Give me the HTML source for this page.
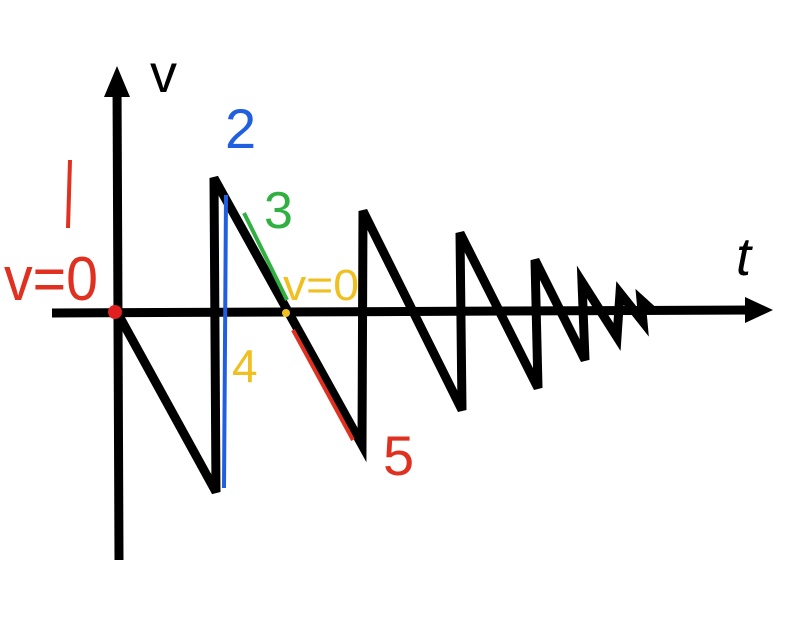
<!DOCTYPE html>
<html><head><style>body{margin:0;background:#fff}svg{display:block}</style></head>
<body>
<svg width="800" height="623" viewBox="0 0 800 623" xmlns="http://www.w3.org/2000/svg" font-family="Liberation Sans, sans-serif">
<g stroke="#000" stroke-width="9" fill="none" stroke-linejoin="miter" stroke-linecap="butt">
<line x1="117" y1="80" x2="119" y2="560"/>
<line x1="52" y1="313" x2="755" y2="310"/>
<polyline points="117,312 216,492 214,178 362,445 363,211 462,410 460,233 538,388 535,260 585,360 582,282 617,337 620,293 643,322 641,300 652,310"/>
</g>
<polygon points="104,97 117,66 130,97" fill="#000"/>
<polygon points="745,297 773,310 745,323" fill="#000"/>
<line x1="226" y1="195" x2="224" y2="488" stroke="#2060e0" stroke-width="4"/>
<line x1="244" y1="213" x2="287" y2="300" stroke="#30b040" stroke-width="4"/>
<line x1="293" y1="330" x2="353" y2="440" stroke="#e03020" stroke-width="4"/>
<circle cx="115" cy="312" r="7" fill="#e02020"/>
<circle cx="286" cy="313" r="4" fill="#f0c020"/>
<text x="150" y="92" font-size="54" fill="#000">v</text>
<text x="225" y="148" font-size="56" fill="#2060e0">2</text>
<line x1="70" y1="160" x2="68" y2="228" stroke="#e03020" stroke-width="4"/>
<text x="4" y="300" font-size="62" fill="#e03020" textLength="94" lengthAdjust="spacingAndGlyphs">v=0</text>
<text x="264" y="228" font-size="52" fill="#30b040">3</text>
<text x="283" y="300" font-size="44" fill="#f0c020" textLength="76" lengthAdjust="spacingAndGlyphs">v=0</text>
<text x="232" y="382" font-size="46" fill="#f0c020">4</text>
<text x="383" y="475" font-size="56" fill="#e03020">5</text>
<text x="736" y="275" font-size="54" font-style="italic" fill="#000">t</text>
</svg>
</body></html>
